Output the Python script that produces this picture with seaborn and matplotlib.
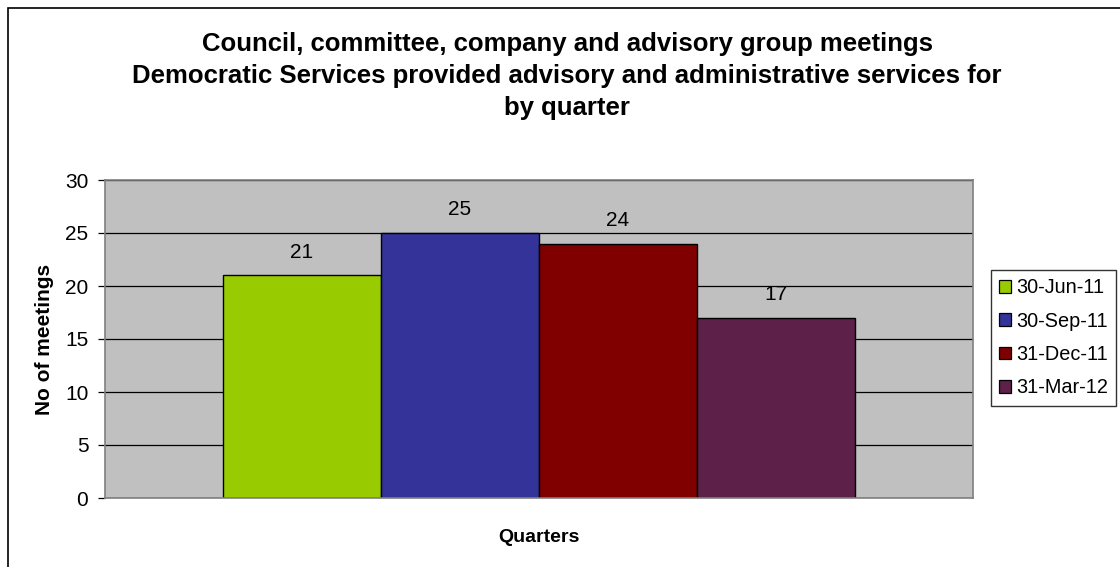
import matplotlib
matplotlib.use("Agg")
import matplotlib.pyplot as plt
import seaborn as sns
import pandas as pd
from matplotlib.patches import Rectangle, Patch

quarters = ["30-Jun-11", "30-Sep-11", "31-Dec-11", "31-Mar-12"]
meetings = [21, 25, 24, 17]
category = ["Quarters"] * len(quarters)
bar_colors = ["#99CC00", "#333399", "#800000", "#5C2049"]
y_ticks = [0, 5, 10, 15, 20, 25, 30]
title_lines = [
    "Council, committee, company and advisory group meetings",
    "Democratic Services provided advisory and administrative services for",
    "by quarter",
]

df = pd.DataFrame({"cat": category, "quarter": quarters, "meetings": meetings})

sns.set_theme(style="white")
plt.rcParams["font.family"] = ["Liberation Sans", "DejaVu Sans"]
plt.rcParams["text.color"] = "black"
plt.rcParams["axes.labelcolor"] = "black"
plt.rcParams["ytick.color"] = "black"
plt.rcParams["xtick.color"] = "black"

W, H = 1120, 567
fig = plt.figure(figsize=(W / 100, H / 100), dpi=100)
ax = fig.add_axes([105 / W, 1 - 498 / H, (973 - 105) / W, (498 - 180) / H])

# outer chart frame (top/left edges visible)
fig.patches.append(Rectangle((7.5 / W, -0.05), 1.2, 1 - 7.5 / H + 0.05,
                             transform=fig.transFigure, fill=False,
                             edgecolor="black", linewidth=1.2, zorder=0))

ax.set_facecolor("#C0C0C0")
ax.yaxis.grid(True, color="black", linewidth=0.9)
ax.set_axisbelow(True)

sns.barplot(data=df, x="cat", y="meetings", hue="quarter", hue_order=quarters,
            palette=bar_colors, width=0.728, gap=0, saturation=1,
            edgecolor="black", linewidth=1.0, legend=False, ax=ax)

ax.set_xlim(-0.5, 0.5)
ax.set_ylim(0, 30)
ax.set_yticks(y_ticks)
ax.set_yticklabels([str(t) for t in y_ticks], fontsize=15)
ax.tick_params(axis="y", which="major", length=5, width=0.9, color="black",
               left=True, pad=7)
ax.set_xticks([])

for c in ax.containers:
    ax.bar_label(c, labels=[str(int(v)) for v in c.datavalues],
                 padding=10, fontsize=15)

for s in ax.spines.values():
    s.set_color("#808080")
    s.set_linewidth(1.2)

ax.set_ylabel("No of meetings", fontsize=15, fontweight="bold", labelpad=8)
ax.set_xlabel("Quarters", fontsize=14, fontweight="bold", labelpad=22)

for y_px, line in zip([44, 76, 108], title_lines):
    fig.text(567 / W, 1 - y_px / H, line, ha="center", va="center",
             fontsize=18.5, fontweight="bold")

handles = [Patch(facecolor=c, edgecolor="black", linewidth=0.9) for c in bar_colors]
leg = fig.legend(handles, quarters, loc="upper left",
                 bbox_to_anchor=(991 / W, 1 - 270 / H), fontsize=14.3,
                 frameon=True, fancybox=False, handlelength=0.6,
                 handleheight=0.6, handletextpad=0.25, labelspacing=0.72,
                 borderpad=0.42, borderaxespad=0)
leg.get_frame().set_edgecolor("black")
leg.get_frame().set_linewidth(1.0)

fig.savefig("out.png", dpi=100, facecolor="white")
